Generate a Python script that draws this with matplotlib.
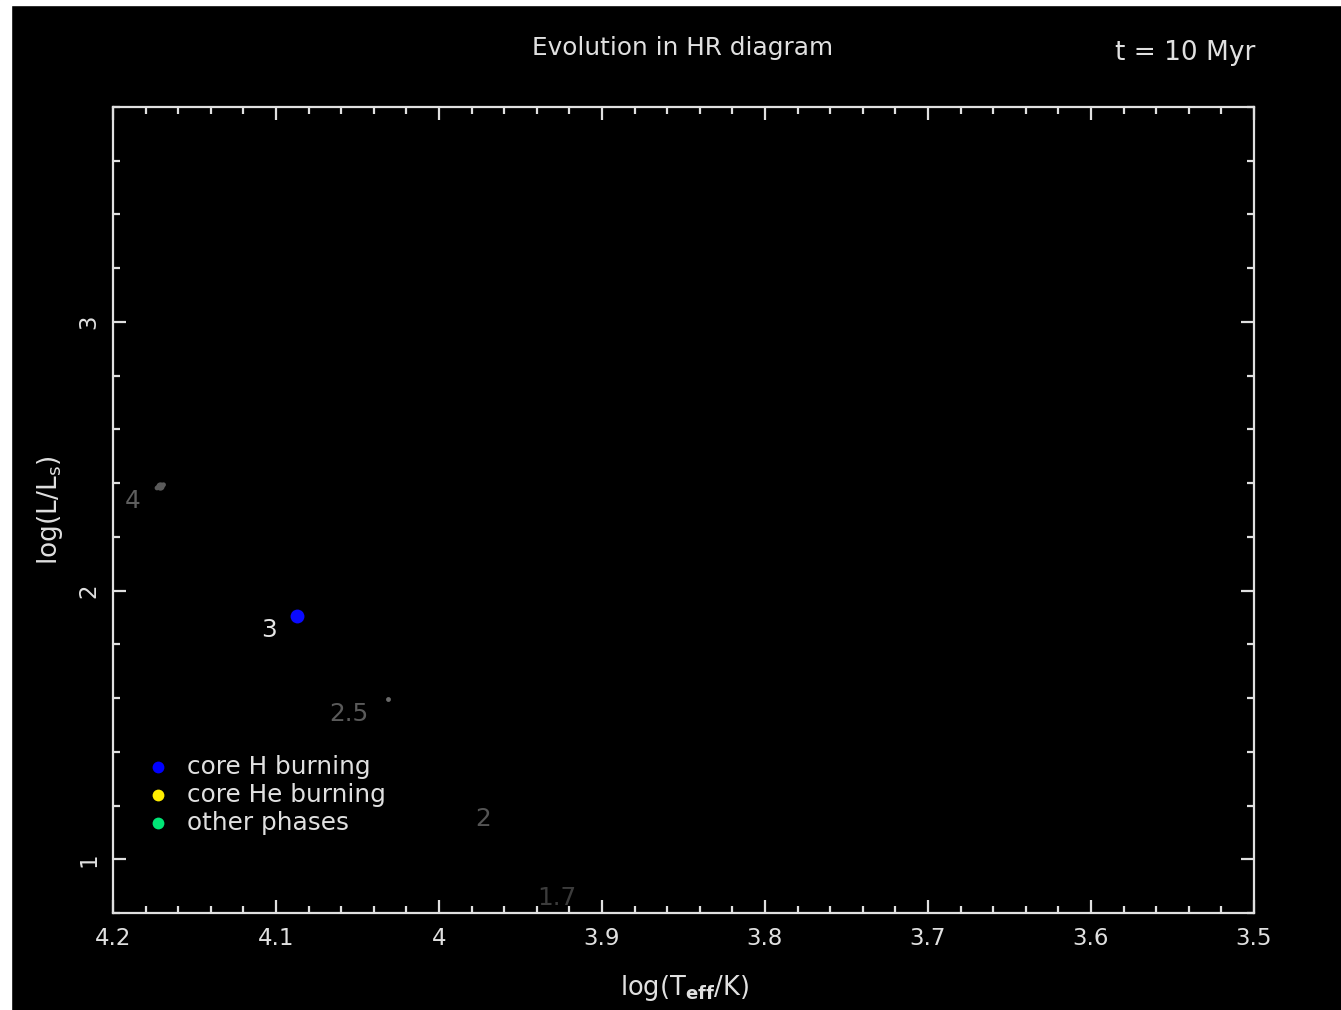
import matplotlib
matplotlib.use("Agg")
import matplotlib.pyplot as plt
from matplotlib.patches import Rectangle
from matplotlib.ticker import MultipleLocator
import matplotlib.transforms as mtransforms

# ---- data ----
masses = ["4", "3", "2.5", "2", "1.7"]
star_logT = [4.171, 4.087, 4.031, 3.956, 3.903]
star_logL = [2.388, 1.907, 1.595, 1.204, 0.911]
star_color = ["#5a5a5a", "#0a0aff", "#6a6a6a", "#000000", "#000000"]
star_size = [6, 10, 3.5, 0, 0]
label_color = ["#5e5e5e", "#e6e6e6", "#5a5a5a", "#545454", "#3c3c3c"]

# short track segment of the 4 Msun star
track4_logT = [4.173, 4.169]
track4_logL = [2.382, 2.394]

legend_labels = ["core H burning", "core He burning", "other phases"]
legend_colors = ["#0000ff", "#ffee00", "#00e676"]

xticks = [4.2, 4.1, 4.0, 3.9, 3.8, 3.7, 3.6, 3.5]
xtick_labels = ["4.2", "4.1", "4", "3.9", "3.8", "3.7", "3.6", "3.5"]
yticks = [1, 2, 3]
ytick_labels = ["1", "2", "3"]

title = "Evolution in HR diagram"
time_label = "t = 10 Myr"

# ---- figure ----
W, H = 1341, 1010
fig = plt.figure(figsize=(W / 100, H / 100), dpi=100, facecolor="black")
# thin white strips at top and left edges
fig.patches.append(Rectangle((0, 1 - 5 / H), 1, 5 / H, transform=fig.transFigure,
                             color="white", zorder=10))
fig.patches.append(Rectangle((0, 0), 11 / W, 1, transform=fig.transFigure,
                             color="white", zorder=10))

ax = fig.add_axes([113 / W, 1 - 913 / H, (1254 - 113) / W, (913 - 107) / H])
ax.set_facecolor("black")
fg = "#e0e0e0"
fs = 16.5
fs_txt = 17.8

ax.set_xlim(4.2, 3.5)
ax.set_ylim(0.8, 3.8)
for s in ax.spines.values():
    s.set_color(fg)
    s.set_linewidth(1.6)

ax.set_xticks(xticks)
ax.set_xticklabels(xtick_labels)
ax.set_yticks(yticks)
ax.set_yticklabels(ytick_labels, rotation=90, va="center")
ax.xaxis.set_minor_locator(MultipleLocator(0.02))
ax.yaxis.set_minor_locator(MultipleLocator(0.2))
ax.tick_params(which="both", direction="in", top=True, right=True, colors=fg,
               width=1.6, labelsize=fs, labelcolor=fg)
ax.tick_params(which="major", length=9.5)
ax.tick_params(which="minor", length=4.8)
ax.tick_params(axis="x", which="major", pad=10)
ax.tick_params(axis="y", which="major", pad=9)

# track segment
ax.plot(track4_logT, track4_logL, color=star_color[0], lw=3.5,
        solid_capstyle="round", zorder=3)
# stars
for i in range(len(masses)):
    if star_size[i] > 0:
        ax.plot(star_logT[i], star_logL[i], "o", ms=star_size[i],
                color=star_color[i], mec="none", zorder=4)
    off = mtransforms.offset_copy(ax.transData, fig=fig, x=-14.5, y=-10.5,
                                  units="points")
    ax.text(star_logT[i], star_logL[i], masses[i], transform=off,
            ha="right", va="center", color=label_color[i], fontsize=fs_txt)

# legend (manual)
leg_y = [(913 - 767) / 806, (913 - 795) / 806, (913 - 823) / 806]
for yy, lab, col in zip(leg_y, legend_labels, legend_colors):
    ax.plot(45 / 1141, yy, "o", ms=8.5, color=col, mec="none",
            transform=ax.transAxes, clip_on=False)
    ax.text(74 / 1141, yy, lab, transform=ax.transAxes, ha="left",
            va="center", color=fg, fontsize=fs_txt)

# titles and labels
fig.text(683 / W, 1 - 48 / H, title, ha="center", va="center", color=fg,
         fontsize=fs_txt)
fig.text(1185 / W, 1 - 53 / H, time_label, ha="center", va="center",
         color=fg, fontsize=19)
fig.text(685 / W, 1 - 988 / H, r"log(T$_{\mathbf{eff}}$/K)", ha="center",
         va="center", color=fg, fontsize=18.5)
fig.text(50 / W, 1 - 510 / H, r"log(L/L$_{\mathrm{s}}$)", ha="center",
         va="center", rotation=90, color=fg, fontsize=19)

fig.savefig("out.png", dpi=100, facecolor="black")
